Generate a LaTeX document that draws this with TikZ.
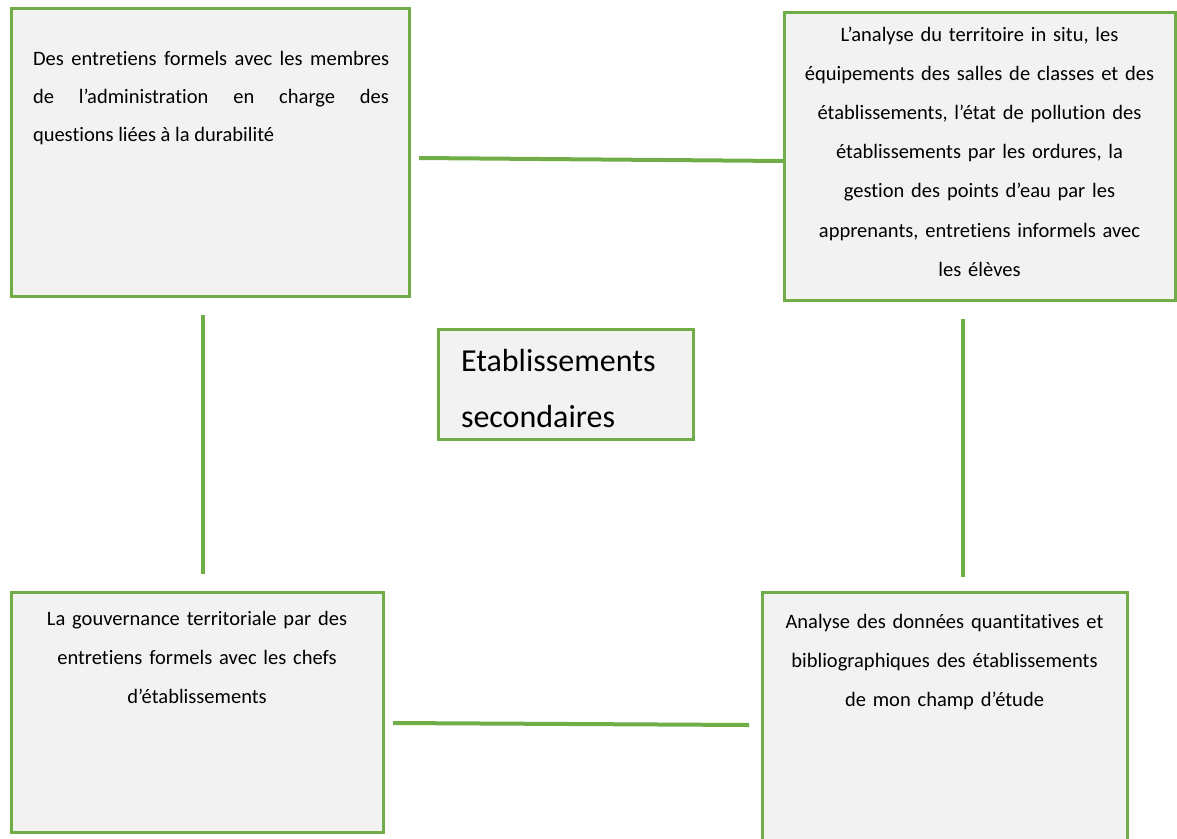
\documentclass[tikz,border=0pt]{standalone}
\usepackage{fontspec}
\setmainfont{Carlito}[RawFeature=-liga]
\definecolor{boxgreen}{HTML}{70AD47}
\definecolor{boxfill}{HTML}{F2F2F2}
\tikzset{
  panel/.style={draw=boxgreen, line width=3pt, fill=boxfill, inner sep=0pt, outer sep=0pt, rectangle},
  link/.style={draw=boxgreen, line width=4pt},
  bodytext/.style={inner sep=0pt, outer sep=0pt, font=\fontsize{20.5}{39.2}\selectfont},
}
\begin{document}
\begin{tikzpicture}[x=1pt,y=-1pt]
\useasboundingbox (0,0) rectangle (1177,838);
\clip (0,0) rectangle (1177,838);
% boxes
\node[panel, minimum width=398pt, minimum height=288pt] (tl) at (210,152) {};
\node[panel, minimum width=391pt, minimum height=288pt] (tr) at (979.5,156) {};
\node[panel, minimum width=255pt, minimum height=110pt] (ce) at (565.5,384) {};
\node[panel, minimum width=372pt, minimum height=240pt] (bl) at (197,712) {};
\node[panel, minimum width=365pt, minimum height=268pt] (br) at (944.5,726) {};
% texts
\node[bodytext, anchor=base west, text width=356pt, align=justify,
      font=\fontsize{20.5}{38}\selectfont] (tlt) at (33,65)
  {Des entretiens formels avec les membres\linebreak de l’administration en charge des\linebreak questions liées à la durabilité};
\node[bodytext, anchor=base, text width=385pt, align=center] (trt) at (979.5,41)
  {L’analyse du territoire in situ, les\\ équipements des salles de classes et des\\ établissements, l’état de pollution des\\ établissements par les ordures, la\\ gestion des points d’eau par les\\ apprenants, entretiens informels avec\\ les élèves};
\node[bodytext, anchor=base west, text width=240pt, align=left,
      font=\fontsize{32}{56}\selectfont] (cet) at (461,371)
  {Etablissements\\ secondaires};
\node[bodytext, anchor=base, text width=365pt, align=center] (blt) at (197,625)
  {La gouvernance territoriale par des\\ entretiens formels avec les chefs\\ d’établissements};
\node[bodytext, anchor=base, text width=360pt, align=center] (brt) at (944.5,628)
  {Analyse des données quantitatives et\\ bibliographiques des établissements\\ de mon champ d’étude};
% connectors
\draw[link] ([xshift=10pt,yshift=-6pt]tl.east) -- ([yshift=-5pt]tr.west);
\draw[link] ([xshift=-7pt,yshift=-19pt]tl.south) -- ([xshift=6pt,yshift=18pt]bl.north);
\draw[link] ([xshift=-16.5pt,yshift=-19pt]tr.south) -- ([xshift=18.5pt,yshift=15pt]br.north);
\draw[link] ([xshift=10pt,yshift=-11pt]bl.east) -- ([xshift=-13pt,yshift=1pt]br.west);
\end{tikzpicture}
\end{document}
